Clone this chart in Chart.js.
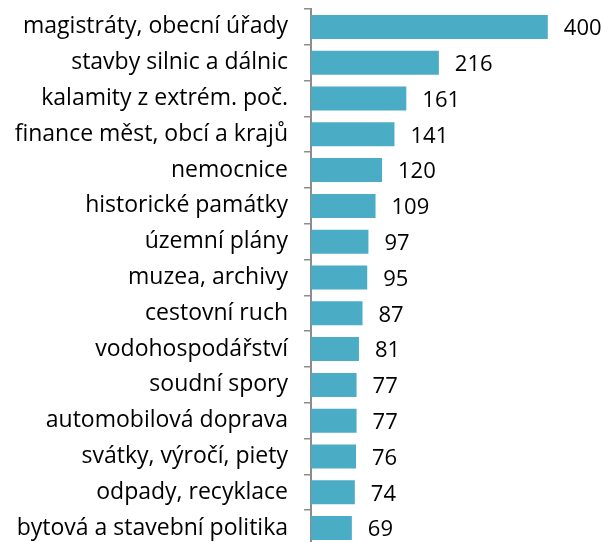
<!DOCTYPE html>
<html>
<head>
<meta charset="utf-8">
<script src="https://cdn.jsdelivr.net/npm/chart.js@4.4.0/dist/chart.umd.min.js"></script>
<style>
  html, body { margin: 0; padding: 0; background: #fff; overflow: hidden; }
  #wrap { width: 608px; height: 546px; position: relative; }
</style>
</head>
<body>
<div id="wrap"><canvas id="chart"></canvas></div>
<script>
const categories = [
  'magistráty, obecní úřady',
  'stavby silnic a dálnic',
  'kalamity z extrém. poč.',
  'finance měst, obcí a krajů',
  'nemocnice',
  'historické památky',
  'územní plány',
  'muzea, archivy',
  'cestovní ruch',
  'vodohospodářství',
  'soudní spory',
  'automobilová doprava',
  'svátky, výročí, piety',
  'odpady, recyklace',
  'bytová a stavební politika'
];
const values = [400, 216, 161, 141, 120, 109, 97, 95, 87, 81, 77, 77, 76, 74, 69];

const FONT = '"Open Sans", Lato, sans-serif';

// draws the numbers to the right of each bar
const valueLabels = {
  id: 'valueLabels',
  afterDatasetsDraw(chart) {
    const ctx = chart.ctx;
    const meta = chart.getDatasetMeta(0);
    ctx.save();
    ctx.font = '22px ' + FONT;
    ctx.fillStyle = '#000';
    ctx.textAlign = 'left';
    ctx.textBaseline = 'middle';
    meta.data.forEach((bar, i) => {
      ctx.fillText(String(values[i]), bar.x + 16, bar.y + 2);
    });
    ctx.restore();
  }
};

new Chart(document.getElementById('chart'), {
  type: 'bar',
  data: {
    labels: categories,
    datasets: [{
      data: values,
      backgroundColor: '#4BACC6',
      borderWidth: 0,
      barPercentage: 0.67,
      categoryPercentage: 1
    }]
  },
  options: {
    indexAxis: 'y',
    responsive: true,
    maintainAspectRatio: false,
    animation: false,
    layout: { padding: { top: 9, right: 1, bottom: 0, left: 0 } },
    plugins: {
      legend: { display: false },
      tooltip: { enabled: false }
    },
    scales: {
      x: { display: false, min: 0, max: 500 },
      y: {
        afterFit(scale) {
          scale.width = 311;
          scale.paddingTop = 0;
          scale.paddingBottom = 0;
        },
        grid: {
          drawOnChartArea: false,
          drawTicks: true,
          tickLength: 7,
          color: '#8c8c8c',
          lineWidth: 1.5
        },
        border: { display: true, color: '#8c8c8c', width: 2 },
        ticks: {
          color: '#000',
          padding: 16,
          font: { family: FONT, size: 23 }
        }
      }
    }
  },
  plugins: [valueLabels]
});
</script>
</body>
</html>
